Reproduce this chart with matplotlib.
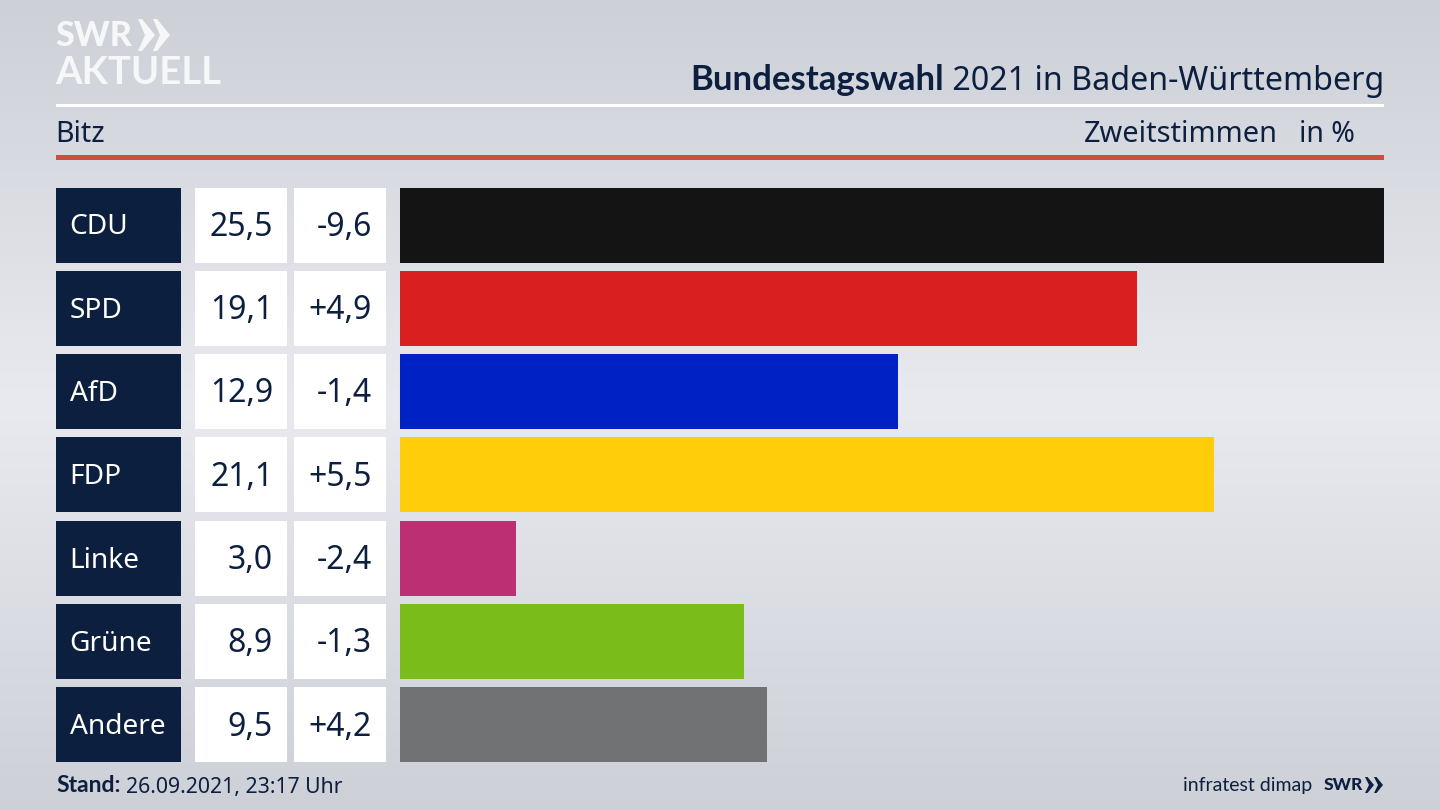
import numpy as np
import matplotlib
matplotlib.use("Agg")
import matplotlib.pyplot as plt
from matplotlib.patches import Rectangle, Polygon
from matplotlib.colors import LinearSegmentedColormap

parties = ["CDU", "SPD", "AfD", "FDP", "Linke", "Grüne", "Andere"]
shares = [25.5, 19.1, 12.9, 21.1, 3.0, 8.9, 9.5]
changes = ["-9,6", "+4,9", "-1,4", "+5,5", "-2,4", "-1,3", "+4,2"]
colors = ["#141414", "#d9201f", "#0022c4", "#ffcd0a", "#bd2f73", "#7abd1a", "#717274"]

NAVY = "#0c1f3f"
FONT = "Noto Sans"
BOLD = "Lato"
plt.rcParams["font.family"] = [FONT, "DejaVu Sans"]

fig = plt.figure(figsize=(14.4, 8.1), dpi=100)

page = fig.add_axes([0, 0, 1, 1])
page.set_xlim(0, 1440)
page.set_ylim(810, 0)
page.axis("off")

cmap = LinearSegmentedColormap.from_list(
    "bg", [(0, "#cdd0d7"), (0.5, "#e9eaf0"), (1, "#cdd0d7")])
grad = np.linspace(0, 1, 256).reshape(-1, 1)
page.imshow(grad, cmap=cmap, extent=[0, 1440, 810, 0], aspect="auto", zorder=0)

# logo
LOGO = "#f6f7f8"
page.text(55, 36, "SWR", fontsize=24.5, family=BOLD, fontweight="black", color=LOGO, va="center", ha="left")
page.text(55, 73, "AKTUELL", fontsize=27.5, family=BOLD, fontweight="bold", color=LOGO, va="center", ha="left")
for x0 in (138, 153):
    page.add_patch(Polygon([(x0, 19), (x0 + 4, 19), (x0 + 17, 35), (x0 + 4, 51), (x0, 51), (x0 + 7, 35)],
                           closed=True, color=LOGO, lw=0, zorder=3))

# rules
page.add_patch(Rectangle((56, 104), 1328, 3, color="#ffffff", lw=0, zorder=2))
page.add_patch(Rectangle((56, 155), 1328, 5, color="#c9503f", lw=0, zorder=2))

# header
t_reg = page.text(1384, 81, " 2021 in Baden-Württemberg", fontsize=23.2, color=NAVY, ha="right", va="center")
fig.canvas.draw()
bb = t_reg.get_window_extent()
page.text(bb.x0, 80, "Bundestagswahl", fontsize=25, family=BOLD, fontweight="bold", color=NAVY, ha="right", va="center")
page.text(55, 135, "Bitz", fontsize=20.5, color=NAVY, ha="left", va="center")
page.text(1278, 135, "Zweitstimmen", fontsize=20.8, color=NAVY, ha="right", va="center")
page.text(1355, 135, "in %", fontsize=20.5, color=NAVY, ha="right", va="center")

# table cells
ROW_TOP = 187.5
PITCH = 83.25
ROW_H = 75
for i, (p, s, c) in enumerate(zip(parties, shares, changes)):
    top = ROW_TOP + i * PITCH
    mid = top + ROW_H / 2 + 2.5
    page.add_patch(Rectangle((56, top), 125, ROW_H, color=NAVY, lw=0, zorder=2))
    page.add_patch(Rectangle((195, top), 92, ROW_H, color="#ffffff", lw=0, zorder=2))
    page.add_patch(Rectangle((294, top), 92, ROW_H, color="#ffffff", lw=0, zorder=2))
    page.text(69.5, mid, p, fontsize=20.2, color="#ffffff", ha="left", va="center", zorder=3)
    page.text(273, mid, f"{s:.1f}".replace(".", ","), fontsize=23, color=NAVY, ha="right", va="center", zorder=3)
    page.text(372, mid, c, fontsize=23, color=NAVY, ha="right", va="center", zorder=3)

# bar axes
x0, x1 = 400.3, 1384
y_top = ROW_TOP + ROW_H / 2 - PITCH / 2
y_bot = y_top + PITCH * len(parties)
ax = fig.add_axes([x0 / 1440, 1 - y_bot / 810, (x1 - x0) / 1440, (y_bot - y_top) / 810])
ax.patch.set_alpha(0)
ax.barh(range(len(parties)), shares, height=ROW_H / PITCH, color=colors, linewidth=0)
ax.set_xlim(0, 25.5)
ax.set_ylim(len(parties) - 0.5, -0.5)
ax.axis("off")

# footer
page.text(56, 786, "Stand:", fontsize=16.5, family=BOLD, fontweight="bold", color=NAVY, ha="left", va="center")
page.text(343, 787, "26.09.2021, 23:17 Uhr", fontsize=15.3, color=NAVY, ha="right", va="center")
page.text(1312, 785, "infratest dimap", fontsize=14, family=BOLD, color=NAVY, ha="right", va="center")
page.text(1324, 785, "SWR", fontsize=12.5, family=BOLD, fontweight="black", color=NAVY, ha="left", va="center")
for xc in (1365, 1374):
    page.add_patch(Polygon([(xc, 777), (xc + 2.5, 777), (xc + 9, 785), (xc + 2.5, 793), (xc, 793), (xc + 4, 785)],
                           closed=True, color=NAVY, lw=0, zorder=3))

fig.savefig("out.png", dpi=100)
